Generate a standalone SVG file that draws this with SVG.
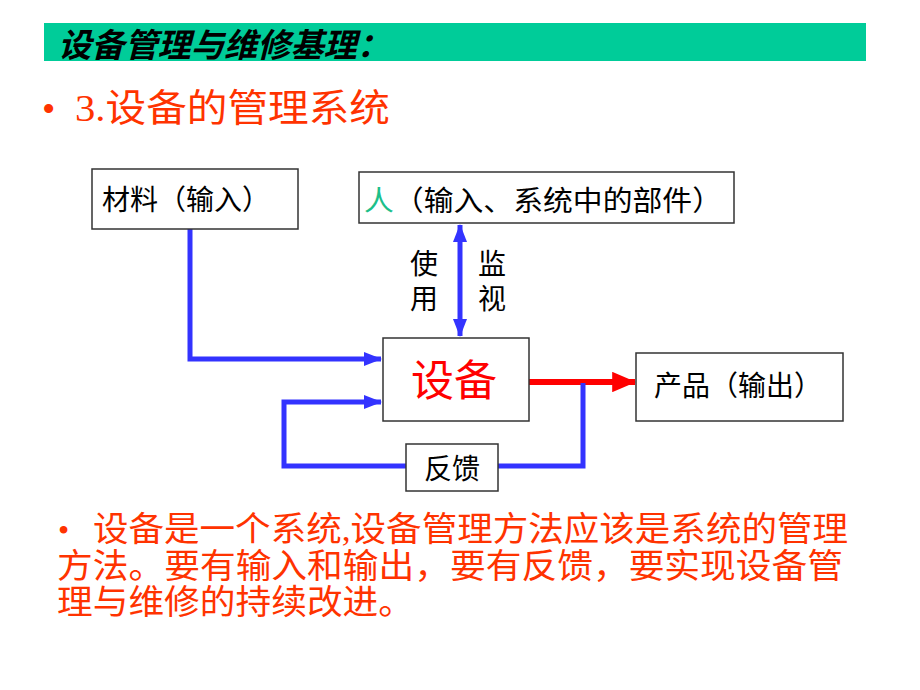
<svg xmlns="http://www.w3.org/2000/svg" width="920" height="690" viewBox="0 0 920 690">
<style>
.cjk{font-family:"Liberation Serif","Noto Sans CJK SC",serif}
.box{fill:#fff;stroke:#333;stroke-width:1.5}
.lbl{font-size:28px;fill:#000}
.blue{fill:none;stroke:#3333FF;stroke-width:5}
.red{fill:#FF3300}
</style>
<defs>
<marker id="ab" markerWidth="3.6" markerHeight="2.8" refX="3.4" refY="1.4" orient="auto-start-reverse" markerUnits="strokeWidth"><path d="M0,0 L3.6,1.4 L0,2.8 z" fill="#3333FF"/></marker>
<marker id="ar" markerWidth="4" markerHeight="3.4" refX="3.8" refY="1.7" orient="auto" markerUnits="strokeWidth"><path d="M0,0 L4,1.7 L0,3.4 z" fill="#FF0000"/></marker>
</defs>
<rect x="44" y="23" width="822" height="38" fill="#00CC99"/>
<text class="cjk" x="58" y="57" font-size="33" font-weight="bold" font-style="italic" textLength="332" lengthAdjust="spacingAndGlyphs">设备管理与维修基理：</text>
<text class="cjk red" x="42" y="122" font-size="38">•</text>
<text class="cjk red" x="75" y="121" font-size="38" textLength="315" lengthAdjust="spacingAndGlyphs">3.设备的管理系统</text>

<g id="connectors">
<polyline class="blue" points="190,229 190,359 381,359" marker-end="url(#ab)"/>
<line class="blue" x1="460" y1="225" x2="460" y2="336" marker-start="url(#ab)" marker-end="url(#ab)"/>
<line x1="529" y1="382" x2="635" y2="382" stroke="#FF0000" stroke-width="6" marker-end="url(#ar)"/>
<polyline class="blue" points="583,383 583,466 498,466"/>
<polyline class="blue" points="406,466 284,466 284,402 381,402" marker-end="url(#ab)"/>
</g>

<g id="material">
<rect class="box" x="92" y="169" width="206" height="60"/>
<text class="cjk lbl" x="102" y="210">材料（输入）</text>
</g>
<g id="person">
<rect class="box" x="359" y="172" width="375" height="51"/>
<text class="cjk lbl" x="364" y="211" textLength="358" lengthAdjust="spacingAndGlyphs"><tspan fill="#1DBF8A">人</tspan>（输入、系统中的部件）</text>
</g>
<g id="use-label">
<text class="cjk lbl" x="410" y="274">使</text>
<text class="cjk lbl" x="410" y="309">用</text>
</g>
<g id="monitor-label">
<text class="cjk lbl" x="478" y="274">监</text>
<text class="cjk lbl" x="478" y="309">视</text>
</g>
<g id="equipment">
<rect class="box" x="383" y="338" width="146" height="83"/>
<text class="cjk" x="411" y="396" font-size="43" fill="#FF0000">设备</text>
</g>
<g id="product">
<rect class="box" x="636" y="353" width="207" height="68"/>
<text class="cjk lbl" x="654" y="396">产品（输出）</text>
</g>
<g id="feedback">
<rect class="box" x="406" y="444" width="92" height="47"/>
<text class="cjk lbl" x="424" y="479">反馈</text>
</g>

<text class="cjk red" x="58" y="541" font-size="32">•</text>
<text class="cjk red" x="93" y="541" font-size="34" textLength="755" lengthAdjust="spacingAndGlyphs">设备是一个系统,设备管理方法应该是系统的管理</text>
<text class="cjk red" x="57" y="578" font-size="34" textLength="786" lengthAdjust="spacingAndGlyphs">方法。要有输入和输出，要有反馈，要实现设备管</text>
<text class="cjk red" x="57" y="614" font-size="34" textLength="357" lengthAdjust="spacingAndGlyphs">理与维修的持续改进。</text>
</svg>
